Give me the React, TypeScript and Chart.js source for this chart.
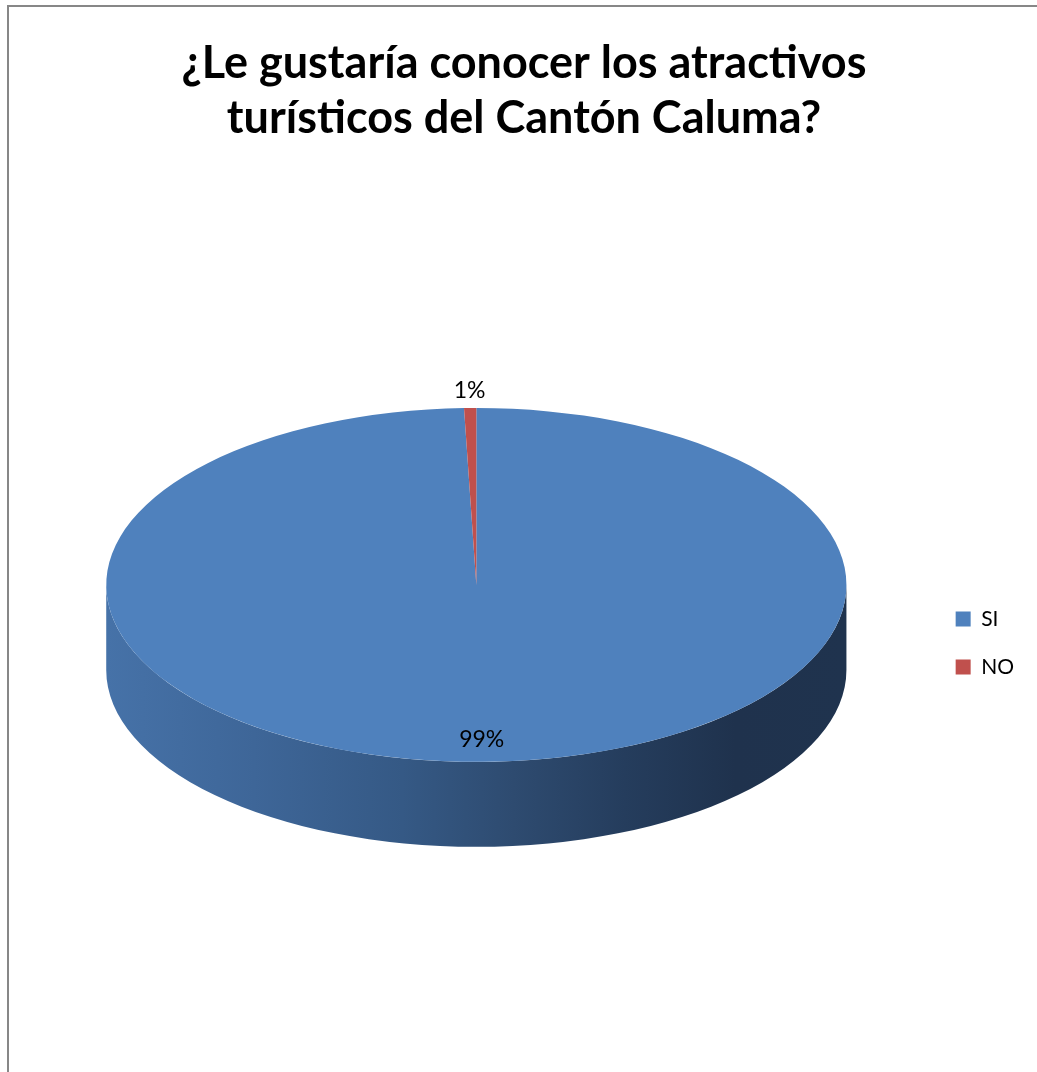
import React, { useEffect, useRef } from 'react';
import { Chart, registerables } from 'chart.js';

Chart.register(...registerables);

// ---- data ----
const categories = ['SI', 'NO'];
const percentages = [99.47, 0.53];
const titleLines = ['¿Le gustaría conocer los atractivos', 'turísticos del Cantón Caluma?'];

// ---- style ----
const sliceColors = ['#4F81BD', '#C0504D'];
const sideGradientStops: [number, string][][] = [
  [[0, '#4672a8'], [0.2, '#3e6698'], [0.4, '#355985'], [0.55, '#2e4b70'], [0.7, '#253d5d'], [0.85, '#1f324d'], [1, '#1f334e']],
  [[0, '#9b3f3c'], [1, '#6e2c2a']],
];
const TILT = 0.478;
const DEPTH = 85;
const FONT = 'Lato, "Open Sans", sans-serif';

export default function App() {
  const ref = useRef<HTMLCanvasElement>(null);

  useEffect(() => {
    const canvas = ref.current;
    if (!canvas) return;

    const framePlugin = {
      id: 'frame',
      beforeDraw(chart: any) {
        const { ctx, width, height } = chart;
        ctx.save();
        ctx.fillStyle = '#ffffff';
        ctx.fillRect(0, 0, width, height);
        ctx.fillStyle = '#878787';
        ctx.fillRect(7, 5, 2, height - 5);
        ctx.fillRect(7, 5, width - 7, 2);
        ctx.restore();
      },
    };

    const pie3d = {
      id: 'pie3d',
      beforeDatasetsDraw(chart: any) {
        const arcs = chart.getDatasetMeta(0).data as any[];
        const ctx = chart.ctx;
        ctx.save();
        if (!arcs.length) return;
        const { x: cx, y: cy, outerRadius: r } = arcs[0].getProps(['x', 'y', 'outerRadius'], true);
        arcs.forEach((arc, i) => {
          const { startAngle, endAngle } = arc.getProps(['startAngle', 'endAngle'], true);
          const a1 = Math.max(startAngle, 0);
          const a2 = Math.min(endAngle, Math.PI);
          if (a2 <= a1) return;
          const g = ctx.createLinearGradient(cx - r, 0, cx + r, 0);
          sideGradientStops[i].forEach(([o, c]) => g.addColorStop(o, c));
          ctx.beginPath();
          ctx.ellipse(cx, cy, r, r * TILT, 0, a1, a2, false);
          ctx.ellipse(cx, cy + DEPTH, r, r * TILT, 0, a2, a1, true);
          ctx.closePath();
          ctx.fillStyle = g;
          ctx.fill();
        });
        ctx.translate(0, cy);
        ctx.scale(1, TILT);
        ctx.translate(0, -cy);
      },
      afterDatasetsDraw(chart: any) {
        const ctx = chart.ctx;
        ctx.restore();
        const arcs = chart.getDatasetMeta(0).data as any[];
        if (!arcs.length) return;
        const values = chart.data.datasets[0].data as number[];
        const total = values.reduce((a, b) => a + b, 0);
        ctx.save();
        ctx.fillStyle = '#000000';
        ctx.font = `23px ${FONT}`;
        ctx.textAlign = 'center';
        ctx.textBaseline = 'middle';
        arcs.forEach((arc, i) => {
          const { x: cx, y: cy, outerRadius: r, startAngle, endAngle } =
            arc.getProps(['x', 'y', 'outerRadius', 'startAngle', 'endAngle'], true);
          const mid = (startAngle + endAngle) / 2;
          const frac = values[i] / total;
          const k = frac < 0.05 ? 1.1 : 0.876;
          ctx.fillText(
            `${Math.round(frac * 100)}%`,
            cx + Math.cos(mid) * r * k,
            cy + Math.sin(mid) * r * TILT * k
          );
        });
        ctx.restore();
      },
    };

    const chart = new Chart(canvas, {
      type: 'pie',
      data: {
        labels: categories,
        datasets: [
          {
            data: percentages,
            backgroundColor: sliceColors,
            borderWidth: 0,
            clip: false,
          } as any,
        ],
      },
      options: {
        responsive: false,
        animation: false,
        events: [],
        layout: { padding: { left: 24, right: 13, top: 0, bottom: 117 } },
        plugins: {
          title: {
            display: true,
            text: titleLines,
            color: '#000000',
            font: { family: FONT, size: 45, weight: 'bold', lineHeight: 1.22 },
            padding: { top: 36, bottom: 69 },
          },
          legend: {
            display: true,
            position: 'right',
            fullSize: false,
            align: 'center',
            title: {
              display: true,
              text: ' ',
              padding: { top: 46, bottom: 46 },
              font: { family: FONT, size: 20, lineHeight: 1.2 },
            },
            labels: {
              color: '#000000',
              font: { family: FONT, size: 21 },
              boxWidth: 15,
              boxHeight: 15,
              padding: 27,
            },
          },
          tooltip: { enabled: false },
        },
      } as any,
      plugins: [framePlugin, pie3d],
    });
    return () => chart.destroy();
  }, []);

  return (
    <div style={{ position: 'absolute', left: 0, top: 0, width: 1037, height: 1072 }}>
      <canvas ref={ref} width={1037} height={1072} style={{ display: 'block' }} />
    </div>
  );
}
